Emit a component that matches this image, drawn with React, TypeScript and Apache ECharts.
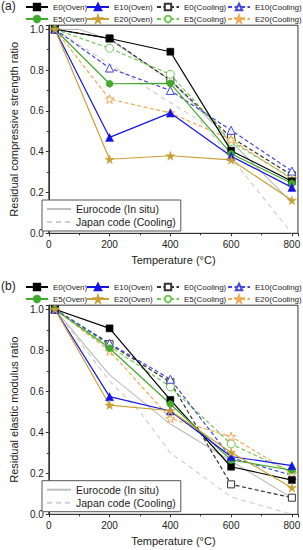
import React, { useEffect, useRef } from "react";
import * as echarts from "echarts";

const temps = [20, 200, 400, 600, 800];
const ticksX = [0, 200, 400, 600, 800];

// (a) residual compressive strength ratio
const aE0Oven = [1.0, 0.955, 0.89, 0.405, 0.255];
const aE10Oven = [1.0, 0.47, 0.59, 0.378, 0.225];
const aE5Oven = [1.0, 0.733, 0.735, 0.39, 0.245];
const aE20Oven = [1.0, 0.363, 0.38, 0.36, 0.162];
const aE0Cool = [1.0, 0.955, 0.75, 0.47, 0.285];
const aE10Cool = [1.0, 0.81, 0.7, 0.505, 0.305];
const aE5Cool = [1.0, 0.907, 0.779, 0.45, 0.27];
const aE20Cool = [1.0, 0.658, 0.59, 0.46, 0.265];
const aEuroT = [20, 100, 200, 300, 400, 500, 600, 700, 800];
const aEuroV = [1.0, 1.0, 0.95, 0.85, 0.75, 0.6, 0.45, 0.3, 0.15];
const aJapanT = [20, 200, 400, 500, 600, 800];
const aJapanV = [1.0, 0.83, 0.64, 0.55, 0.37, 0.0];

// (b) residual elastic modulus ratio
const bE0Oven = [1.0, 0.907, 0.558, 0.232, 0.167];
const bE10Oven = [1.0, 0.574, 0.504, 0.282, 0.237];
const bE5Oven = [1.0, 0.81, 0.538, 0.265, 0.215];
const bE20Oven = [1.0, 0.533, 0.505, 0.302, 0.13];
const bE0Cool = [1.0, 0.83, 0.645, 0.146, 0.081];
const bE10Cool = [1.0, 0.834, 0.659, 0.276, 0.19];
const bE5Cool = [1.0, 0.82, 0.622, 0.343, 0.205];
const bE20Cool = [1.0, 0.797, 0.468, 0.379, 0.2];
const bEuroT = [20, 200, 400, 600, 800];
const bEuroV = [1.0, 0.68, 0.44, 0.26, 0.08];
const bJapanT = [20, 200, 300, 400, 600, 800];
const bJapanV = [1.0, 0.65, 0.5, 0.3, 0.085, 0.0];

const STAR =
  "path://M50,0 L61,35 L98,35 L68,57 L79,91 L50,70 L21,91 L32,57 L2,35 L39,35 Z";

const FONT = "'Liberation Sans', Arial, sans-serif";

type Spec = {
  name: string;
  color: string;
  symbol: string;
  size: number;
  open: boolean;
  dashed: boolean;
};

const specs: Spec[] = [
  { name: "E0(Oven)", color: "#000000", symbol: "rect", size: 7, open: false, dashed: false },
  { name: "E5(Oven)", color: "#43a82e", symbol: "circle", size: 7, open: false, dashed: false },
  { name: "E10(Oven)", color: "#1414e6", symbol: "triangle", size: 8, open: false, dashed: false },
  { name: "E20(Oven)", color: "#c9a033", symbol: STAR, size: 9, open: false, dashed: false },
  { name: "E0(Cooling)", color: "#333333", symbol: "rect", size: 7, open: true, dashed: true },
  { name: "E5(Cooling)", color: "#72c852", symbol: "circle", size: 8, open: true, dashed: true },
  { name: "E10(Cooling)", color: "#4646dc", symbol: "triangle", size: 8, open: true, dashed: true },
  { name: "E20(Cooling)", color: "#eeaa55", symbol: STAR, size: 9, open: true, dashed: true },
];

const aVals: Record<string, number[]> = {
  "E0(Oven)": aE0Oven,
  "E5(Oven)": aE5Oven,
  "E10(Oven)": aE10Oven,
  "E20(Oven)": aE20Oven,
  "E0(Cooling)": aE0Cool,
  "E5(Cooling)": aE5Cool,
  "E10(Cooling)": aE10Cool,
  "E20(Cooling)": aE20Cool,
};
const bVals: Record<string, number[]> = {
  "E0(Oven)": bE0Oven,
  "E5(Oven)": bE5Oven,
  "E10(Oven)": bE10Oven,
  "E20(Oven)": bE20Oven,
  "E0(Cooling)": bE0Cool,
  "E5(Cooling)": bE5Cool,
  "E10(Cooling)": bE10Cool,
  "E20(Cooling)": bE20Cool,
};

const pairs = (xs: number[], ys: number[]) => xs.map((x, i) => [x, ys[i]]);

function buildSeries(idx: number, vals: Record<string, number[]>, euroT: number[], euroV: number[], japT: number[], japV: number[]) {
  const out: any[] = [
    {
      name: "Eurocode (In situ)",
      type: "line",
      xAxisIndex: idx,
      yAxisIndex: idx,
      data: pairs(euroT, euroV),
      symbol: "circle",
      showSymbol: false,
      lineStyle: { color: "#bdbdbd", width: 1.2 },
      itemStyle: { color: "#bdbdbd" },
      z: 1,
    },
    {
      name: "Japan code (Cooling)",
      type: "line",
      xAxisIndex: idx,
      yAxisIndex: idx,
      data: pairs(japT, japV),
      symbol: "circle",
      showSymbol: false,
      lineStyle: { color: "#cfcfcf", width: 1.2, type: [5, 4] },
      itemStyle: { color: "#cfcfcf" },
      z: 1,
    },
  ];
  const order = [4, 5, 6, 7, 0, 1, 2, 3];
  order.forEach((k) => {
    const s = specs[k];
    out.push({
      name: s.name,
      type: "line",
      xAxisIndex: idx,
      yAxisIndex: idx,
      data: pairs(temps, vals[s.name]),
      symbol: s.symbol,
      symbolSize: s.size,
      showAllSymbol: true,
      lineStyle: { color: s.color, width: 1.2, type: s.dashed ? [4, 2.5] : "solid" },
      itemStyle: s.open
        ? { color: "#ffffff", borderColor: s.color, borderWidth: 1 }
        : { color: s.color, borderColor: s.color, borderWidth: 0.5 },
      z: s.dashed ? 2 : 3,
    });
  });
  return out;
}

function xAxisOpt(idx: number) {
  return {
    type: "value",
    gridIndex: idx,
    min: 0,
    max: 820,
    interval: 200,
    name: "Temperature (°C)",
    nameLocation: "middle",
    nameGap: 21,
    nameTextStyle: { fontFamily: FONT, fontSize: 11, color: "#222" },
    axisLine: { show: true, lineStyle: { color: "#333", width: 1 } },
    axisTick: { show: true, inside: false, length: 3, lineStyle: { color: "#333" } },
    minorTick: { show: true, splitNumber: 2, length: 2, lineStyle: { color: "#333" } },
    splitLine: { show: false },
    axisLabel: {
      fontFamily: FONT,
      fontSize: 10,
      color: "#222",
      margin: 6,
      showMaxLabel: false,
      formatter: (v: number) => (ticksX.indexOf(v) >= 0 ? String(v) : ""),
    },
  };
}

function yAxisOpt(idx: number, name: string) {
  return {
    type: "value",
    gridIndex: idx,
    min: 0,
    max: 1.02,
    interval: 0.2,
    name,
    nameLocation: "middle",
    nameGap: 23,
    nameTextStyle: { fontFamily: FONT, fontSize: 11, color: "#222" },
    axisLine: { show: true, lineStyle: { color: "#333", width: 1 } },
    axisTick: { show: true, inside: false, length: 3, lineStyle: { color: "#333" } },
    minorTick: { show: true, splitNumber: 2, length: 2, lineStyle: { color: "#333" } },
    splitLine: { show: false },
    axisLabel: {
      fontFamily: FONT,
      fontSize: 10,
      color: "#222",
      margin: 5,
      showMaxLabel: false,
      formatter: (v: number) => v.toFixed(1),
    },
  };
}

function topLegends(top: number) {
  const cols = [
    { left: 25, data: ["E0(Oven)", "E5(Oven)"] },
    { left: 86, data: ["E10(Oven)", "E20(Oven)"] },
    { left: 156, data: ["E0(Cooling)", "E5(Cooling)"] },
    { left: 227, data: ["E10(Cooling)", "E20(Cooling)"] },
  ];
  return cols.map((c) => ({
    orient: "vertical",
    left: c.left,
    top,
    padding: 0,
    itemGap: 2,
    itemWidth: 22,
    itemHeight: 8,
    data: c.data,
    textStyle: { fontFamily: FONT, fontSize: 8, color: "#222", lineHeight: 10 },
  }));
}

function bottomLegend(top: number) {
  return {
    orient: "vertical",
    left: 42,
    top,
    padding: [3.5, 5, 3.5, 4],
    itemGap: 2,
    itemWidth: 24,
    itemHeight: 10,
    borderColor: "#555",
    borderWidth: 1,
    backgroundColor: "#ffffff",
    data: [
      { name: "Eurocode (In situ)", itemStyle: { opacity: 0 } },
      { name: "Japan code (Cooling)", itemStyle: { opacity: 0 } },
    ],
    textStyle: { fontFamily: FONT, fontSize: 10.5, color: "#222", lineHeight: 11 },
  };
}

export default function App() {
  const ref = useRef<HTMLDivElement>(null);
  useEffect(() => {
    if (!ref.current) return;
    const chart = echarts.init(ref.current, null, { renderer: "svg" });
    chart.setOption({
      animation: false,
      backgroundColor: "#ffffff",
      grid: [
        { left: 39.3, right: 3.7, top: 25.2, bottom: 316.7, show: true, borderColor: "#333", borderWidth: 1 },
        { left: 39.3, right: 3.7, top: 305.2, bottom: 35.7, show: true, borderColor: "#333", borderWidth: 1 },
      ],
      xAxis: [xAxisOpt(0), xAxisOpt(1)],
      yAxis: [
        yAxisOpt(0, "Residual compressive strength ratio"),
        yAxisOpt(1, "Residual elastic modulus ratio"),
      ],
      legend: [...topLegends(2), ...topLegends(282), bottomLegend(200), bottomLegend(480.7)],
      graphic: [
        { type: "text", left: 1, top: 0, style: { text: "(a)", fontFamily: FONT, fontSize: 12, fill: "#222" } },
        { type: "text", left: 1, top: 280, style: { text: "(b)", fontFamily: FONT, fontSize: 12, fill: "#222" } },
      ],
      series: [
        ...buildSeries(0, aVals, aEuroT, aEuroV, aJapanT, aJapanV),
        ...buildSeries(1, bVals, bEuroT, bEuroV, bJapanT, bJapanV),
      ],
    });
    return () => chart.dispose();
  }, []);
  return (
    <div
      ref={ref}
      style={{ position: "fixed", left: 0, top: 0, width: 303, height: 550, background: "#fff" }}
    />
  );
}
